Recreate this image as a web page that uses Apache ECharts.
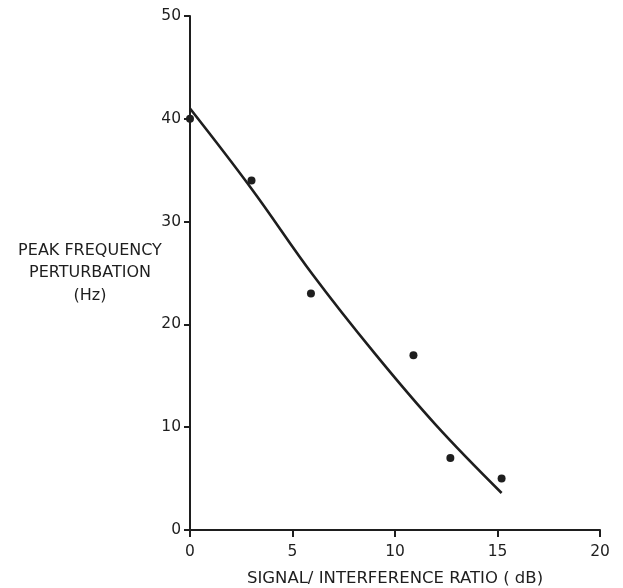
<!DOCTYPE html>
<html>
<head>
<meta charset="utf-8">
<script src="https://cdn.jsdelivr.net/npm/echarts@6/dist/echarts.min.js"></script>
<style>
  html, body { margin: 0; padding: 0; background: #fff; }
  #chart { width: 623px; height: 588px; }
</style>
</head>
<body>
<div id="chart"></div>
<script>
// Measured points: signal/interference ratio (dB) vs. peak frequency perturbation (Hz)
const ratioDb = [0, 3, 5.9, 10.9, 12.7, 15.2];
const perturbationHz = [40, 34, 23, 17, 7, 5];

// Fitted trend curve through the measurements
const fitRatioDb = [0, 3, 6, 9, 12, 15.2];
const fitPerturbationHz = [41, 33.2, 24.8, 17.2, 10.2, 3.6];

const xTicks = [0, 5, 10, 15, 20];
const yTicks = [0, 10, 20, 30, 40, 50];

const ink = '#1e1e1e';
const font = 'DejaVu Sans';

const chart = echarts.init(document.getElementById('chart'), null, { renderer: 'canvas' });

chart.setOption({
  backgroundColor: '#ffffff',
  animation: false,
  grid: { left: 190, top: 16, right: 23, bottom: 58, containLabel: false, outerBoundsMode: 'none' },
  xAxis: {
    type: 'value',
    min: xTicks[0],
    max: xTicks[xTicks.length - 1],
    interval: 5,
    name: 'SIGNAL/ INTERFERENCE RATIO ( dB)',
    nameLocation: 'middle',
    nameGap: 40,
    nameTextStyle: { color: ink, fontFamily: font, fontSize: 16.5 },
    axisLine: { lineStyle: { color: ink, width: 2 } },
    axisTick: { inside: false, length: 7, lineStyle: { color: ink, width: 2 } },
    axisLabel: { color: ink, fontFamily: font, fontSize: 15.5, margin: 14 },
    splitLine: { show: false }
  },
  yAxis: {
    type: 'value',
    min: yTicks[0],
    max: yTicks[yTicks.length - 1],
    interval: 10,
    name: 'PEAK FREQUENCY\nPERTURBATION\n(Hz)',
    nameLocation: 'middle',
    nameRotate: 0,
    nameGap: 100,
    nameMoveOverlap: false,
    nameTextStyle: { color: ink, fontFamily: font, fontSize: 16, align: 'center', lineHeight: 22.5, padding: [18, 0, 0, 0] },
    axisLine: { show: true, lineStyle: { color: ink, width: 2 } },
    axisTick: { show: true, inside: false, length: 6, lineStyle: { color: ink, width: 2 } },
    axisLabel: { color: ink, fontFamily: font, fontSize: 15.5, margin: 9 },
    splitLine: { show: false }
  },
  series: [
    {
      type: 'line',
      data: fitRatioDb.map((x, i) => [x, fitPerturbationHz[i]]),
      smooth: 0.4,
      showSymbol: false,
      lineStyle: { color: ink, width: 2.6 },
      z: 2
    },
    {
      type: 'scatter',
      data: ratioDb.map((x, i) => [x, perturbationHz[i]]),
      symbol: 'circle',
      symbolSize: 8,
      itemStyle: { color: ink, opacity: 1 },
      z: 3
    }
  ]
});
</script>
</body>
</html>
